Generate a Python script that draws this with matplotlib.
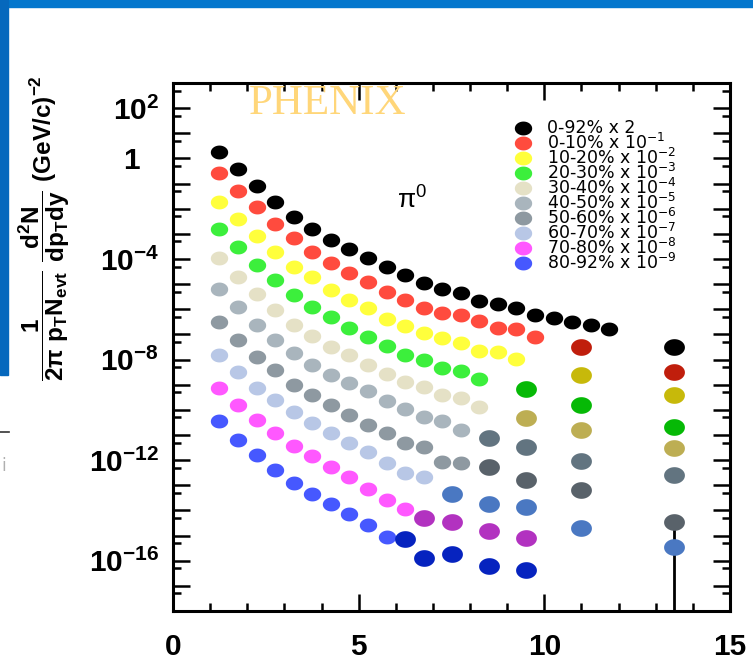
import numpy as np
import matplotlib
matplotlib.use('Agg')
import matplotlib.pyplot as plt
from matplotlib.path import Path
from matplotlib.patches import Rectangle
from matplotlib.lines import Line2D
from matplotlib.ticker import FixedLocator, NullFormatter
from matplotlib.transforms import ScaledTranslation

plt.rcParams['mathtext.default'] = 'regular'

# ---------------- data ----------------
pt_bins = [1.25, 1.75, 2.25, 2.75, 3.25, 3.75, 4.25, 4.75, 5.25, 5.75, 6.25,
           6.75, 7.25, 7.75, 8.25, 8.75, 9.25, 9.75, 10.25, 10.75, 11.25, 11.75]

centrality = ['0-92%', '0-10%', '10-20%', '20-30%', '30-40%',
              '40-50%', '50-60%', '60-70%', '70-80%', '80-92%']
scale_text = ['x 2', 'x 10$^{-1}$', 'x 10$^{-2}$', 'x 10$^{-3}$', 'x 10$^{-4}$',
              'x 10$^{-5}$', 'x 10$^{-6}$', 'x 10$^{-7}$', 'x 10$^{-8}$', 'x 10$^{-9}$']

y_0_92 = [1.85, 0.369, 0.080, 0.019, 4.55e-3, 1.52e-3, 5.69e-4, 2.43e-4, 1.06e-4,
          4.93e-5, 2.31e-5, 1.14e-5, 6.4e-6, 4.3e-6, 2.2e-6, 1.62e-6, 1.09e-6,
          5.9e-7, 4.37e-7, 3.2e-7, 2.37e-7, 1.6e-7]
y_0_10 = [0.270, 0.052, 0.0114, 2.46e-3, 6.65e-4, 1.95e-4, 6.73e-5, 2.85e-5,
          1.25e-5, 5.0e-6, 2.34e-6, 1.09e-6, 7.3e-7, 5.9e-7, 3.5e-7, 1.75e-7,
          1.6e-7, 8.1e-8]
y_10_20 = [0.019, 3.79e-3, 8.2e-4, 1.95e-4, 4.93e-5, 1.97e-5, 5.8e-6, 2.34e-6,
           1.09e-6, 4.1e-7, 2.16e-7, 1.19e-7, 7.0e-8, 4.76e-8, 2.25e-8, 2.05e-8,
           1.02e-8]
y_20_30 = [1.52e-3, 2.92e-4, 5.76e-5, 1.46e-5, 3.69e-6, 1.26e-6, 5.06e-7, 1.75e-7,
           8.1e-8, 3.6e-8, 1.52e-8, 9.6e-9, 4.7e-9, 3.5e-9, 1.64e-9]
y_30_40 = [1.06e-4, 1.97e-5, 4.05e-6, 9.3e-7, 2.37e-7, 8.6e-8, 3.24e-8, 1.52e-8,
           6.07e-9, 2.66e-9, 1.31e-9, 7.87e-10, 3.9e-10, 2.87e-10, 1.33e-10]
y_40_50 = [6.22e-6, 1.2e-6, 2.37e-7, 5.98e-8, 1.77e-8, 6.07e-9, 2.43e-9, 1.17e-9,
           5.6e-10, 2.24e-10, 1.05e-10, 5.04e-11, 3.69e-11, 1.57e-11]
y_50_60 = [3.2e-7, 5.98e-8, 1.3e-8, 3.84e-9, 9.7e-10, 3.9e-10, 1.56e-10, 6.2e-11,
           2.49e-11, 1.16e-11, 4.66e-12, 3.23e-12, 8.6e-13, 7.46e-13]
y_60_70 = [1.52e-8, 3.28e-9, 7.38e-10, 2.46e-10, 8.2e-11, 2.99e-11, 1.2e-11,
           4.79e-12, 2.1e-12, 7.46e-13, 3.15e-13, 2.19e-13]
y_70_80 = [7.38e-10, 1.56e-10, 3.94e-11, 1.2e-11, 3.64e-12, 1.46e-12, 5.31e-13,
           2.13e-13, 7.1e-14, 2.59e-14, 1.1e-14]
y_80_92 = [3.59e-11, 6.3e-12, 1.6e-12, 4.04e-13, 1.23e-13, 4.48e-14, 1.8e-14,
           7.2e-15, 2.62e-15, 8.5e-16]

# high-pT points (large markers)
hi_pt_0_92 = [13.5]
hi_y_0_92 = [3.24e-8]
hi_pt_0_10 = [11.0, 13.5]
hi_y_0_10 = [3.24e-8, 3.3e-9]
hi_pt_10_20 = [11.0, 13.5]
hi_y_10_20 = [2.43e-9, 3.9e-10]
hi_pt_20_30 = [9.5, 11.0, 13.5]
hi_y_20_30 = [6.55e-10, 1.56e-10, 2.13e-11]
hi_pt_30_40 = [9.5, 11.0, 13.5]
hi_y_30_40 = [4.6e-11, 1.57e-11, 2.95e-12]
hi_pt_40_50 = [8.5, 9.5, 11.0, 13.5]
hi_y_40_50 = [7.36e-12, 3.41e-12, 9.46e-13, 2.55e-13]
hi_pt_50_60 = [8.5, 9.5, 11.0, 13.5]
hi_y_50_60 = [5.46e-13, 1.61e-13, 6.5e-14, 3.55e-15]
hi_pt_60_70 = [7.5, 8.5, 9.5, 11.0, 13.5]
hi_y_60_70 = [4.48e-14, 1.8e-14, 1.4e-14, 1.94e-15, 3.59e-16]
hi_pt_70_80 = [6.75, 7.5, 8.5, 9.5]
hi_y_70_80 = [4.84e-15, 3.55e-15, 1.56e-15, 7.75e-16]
hi_pt_80_92 = [6.25, 6.75, 7.5, 8.5, 9.5]
hi_y_80_92 = [7.08e-16, 1.24e-16, 1.84e-16, 6.1e-17, 4.25e-17]

# error bar on last 60-70% point
err_pt = [13.5]
err_y = [3.59e-16]
err_low = [3.589e-16]
err_high = [3.2e-15]

small_colors = ['#000000', '#ff4b3e', '#ffff3c', '#3cef3c', '#e5e1c6',
                '#a9b5bd', '#8e99a1', '#b8c7e6', '#ff58ff', '#4658ff']
big_colors = ['#000000', '#c01e0c', '#c7b90a', '#06b906', '#bdae53',
              '#627480', '#59626a', '#4a78c2', '#b232c0', '#0623bf']

small_series = [y_0_92, y_0_10, y_10_20, y_20_30, y_30_40,
                y_40_50, y_50_60, y_60_70, y_70_80, y_80_92]
big_pts = [hi_pt_0_92, hi_pt_0_10, hi_pt_10_20, hi_pt_20_30, hi_pt_30_40,
           hi_pt_40_50, hi_pt_50_60, hi_pt_60_70, hi_pt_70_80, hi_pt_80_92]
big_vals = [hi_y_0_92, hi_y_0_10, hi_y_10_20, hi_y_20_30, hi_y_30_40,
            hi_y_40_50, hi_y_50_60, hi_y_60_70, hi_y_70_80, hi_y_80_92]

# ---------------- figure ----------------
W, H = 753, 663
fig = plt.figure(figsize=(W / 100, H / 100), dpi=100)
fig.patch.set_facecolor('white')

# slide decorations
fig.patches.append(Rectangle((0, 1 - 7 / H), 1, 7 / H, transform=fig.transFigure,
                             color='#0477cd', zorder=0))
fig.patches.append(Rectangle((0, 1 - 375 / H), 8 / W, 375 / H, transform=fig.transFigure,
                             color='#0668bd', zorder=0))
fig.lines.append(Line2D([0, 9 / W], [1 - 432 / H, 1 - 432 / H], transform=fig.transFigure,
                        color='#333333', lw=1.2))
fig.text(1.5 / W, 1 - 466 / H, 'i', color='#b0b0b0', fontsize=12, ha='left', va='center')

ax = fig.add_axes([173 / W, 52 / H, 557 / W, 528 / H])
ax.set_facecolor('none')

theta = np.linspace(0, 2 * np.pi, 60)
ell = Path(np.column_stack([np.cos(theta), 0.8 * np.sin(theta)]), closed=True)

for i in range(10):
    ys = small_series[i]
    ax.plot(pt_bins[:len(ys)], ys, ls='none', marker=ell, ms=12.5, mew=0,
            color=small_colors[i], zorder=3)
    ax.plot(big_pts[i], big_vals[i], ls='none', marker=ell, ms=15, mew=0,
            color=big_colors[i], zorder=3)

ax.errorbar(err_pt, err_y, yerr=[err_low, err_high], fmt='none', ecolor='black',
            elinewidth=2, capsize=0, zorder=2)

ax.set_xlim(0, 15)
ax.set_yscale('log')
ax.set_ylim(1e-18, 1e3)

# ticks
ax.set_xticks([0, 5, 10, 15])
ax.set_xticklabels(['0', '5', '10', '15'])
ax.xaxis.set_minor_locator(FixedLocator(np.arange(0, 16, 1)))
exponents = list(range(-18, 4))
decades = [10.0 ** k for k in exponents]
lab_map = {2: '10$^{2}$', 0: '1', -4: '10$^{-4}$', -8: '10$^{-8}$',
           -12: '10$^{-12}$', -16: '10$^{-16}$'}
ax.yaxis.set_major_locator(FixedLocator(decades))
ax.set_yticklabels([lab_map.get(k, '') for k in exponents])
ax.yaxis.set_minor_locator(FixedLocator([5 * 10.0 ** k for k in range(-19, 3)]))
ax.yaxis.set_minor_formatter(NullFormatter())

ax.tick_params(which='both', direction='in', top=True, right=True, width=1.8,
               color='black')
ax.tick_params(which='major', axis='y', length=12)
ax.tick_params(which='minor', axis='y', length=6)
ax.tick_params(which='major', axis='x', length=12)
ax.tick_params(which='minor', axis='x', length=6)
ax.tick_params(axis='y', pad=10)
ax.tick_params(axis='x', pad=16)
for lab in ax.get_xticklabels() + ax.get_yticklabels():
    lab.set_fontfamily('Liberation Sans')
    lab.set_fontweight('bold')
    lab.set_fontsize(21.5)
for sp in ax.spines.values():
    sp.set_linewidth(2.2)

# shift the "1" label left so it lines up under the "10" of the others
one_tick = ax.yaxis.get_major_ticks()[exponents.index(0)]
one_tick.label1.set_transform(one_tick.label1.get_transform() +
                              ScaledTranslation(-0.19, 0, fig.dpi_scale_trans))

# y label
ax.set_ylabel(r'$\dfrac{1}{2\pi\ p_{T}N_{evt}}\ \dfrac{d^{2}N}{dp_{T}dy}\ (GeV/c)^{-2}$',
              fontfamily='Liberation Sans', fontweight='bold', fontsize=17.5,
              va='center', ha='center', rotation_mode='anchor')
ax.yaxis.set_label_coords((44 - 173) / 557, (611 - 228) / 528)

# annotations
ax.text((328 - 173) / 557, (611 - 104) / 528, 'PHENIX', transform=ax.transAxes,
        fontfamily='Liberation Serif', fontsize=31, color='#ffd679',
        ha='center', va='center')
ax.text((412 - 173) / 557, (611 - 200) / 528, 'π$^{0}$', transform=ax.transAxes,
        fontfamily='Liberation Sans', fontsize=19, color='black',
        ha='center', va='center')

# legend (drawn row by row)
for i in range(10):
    yy = (611 - (128 + 15 * i)) / 528
    ax.plot([(523 - 173) / 557], [yy], transform=ax.transAxes, ls='none',
            marker=ell, ms=12.5, mew=0, color=small_colors[i], clip_on=False)
    ax.text((547 - 173) / 557, yy, centrality[i] + ' ' + scale_text[i],
            transform=ax.transAxes, fontfamily='DejaVu Sans', fontsize=12.5,
            ha='left', va='center')

fig.savefig('out.png', dpi=100)
